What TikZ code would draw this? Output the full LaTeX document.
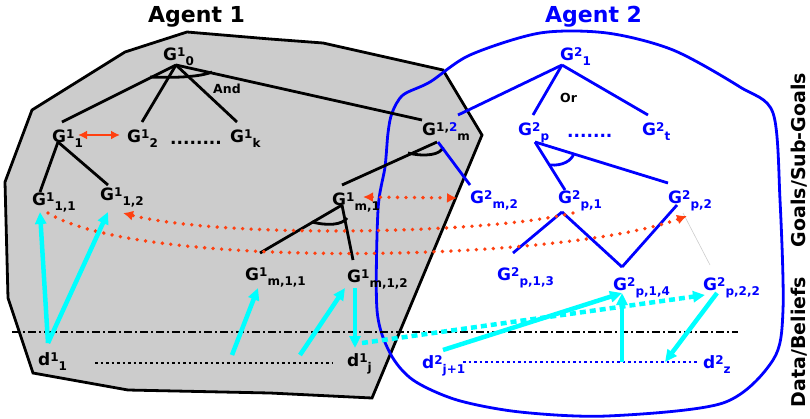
\documentclass[tikz,border=0pt]{standalone}
\usepackage{fontspec}
\setmainfont{DejaVu Sans}
\usetikzlibrary{arrows.meta}

\definecolor{agblue}{RGB}{0,0,255}
\definecolor{agred}{RGB}{255,64,16}
\definecolor{agcyan}{RGB}{0,255,255}
\definecolor{aggray}{RGB}{204,204,204}

% raised and lowered indices of a goal label
\newcommand{\Gup}[1]{\raisebox{3.6pt}{\fontsize{12}{12}\selectfont #1}}
\newcommand{\Gdn}[1]{\raisebox{-5pt}{\fontsize{12}{12}\selectfont #1}}

\tikzset{
  gl/.style={inner sep=0pt, anchor=base west, font=\fontsize{17}{20}\selectfont\bfseries},
  bl/.style={gl, text=agblue},
  word/.style={inner sep=0pt, anchor=base west, font=\fontsize{12.5}{14}\selectfont\bfseries},
  title/.style={inner sep=0pt, anchor=base west, font=\fontsize{22}{24}\selectfont\bfseries},
  side/.style={inner sep=0pt, anchor=base, rotate=90, font=\fontsize{19}{20}\selectfont\bfseries},
  tree/.style={line width=2.8pt},
  btree/.style={tree, agblue},
  reddots/.style={agred, line width=3.8pt, line cap=round, dash pattern=on 0pt off 8.5pt},
  cyarr/.style={agcyan, line width=4.5pt, -{Triangle[length=12pt,width=11pt]}},
  dataline/.style={line width=2.5pt, dash pattern=on 2.5pt off 3pt}
}

\begin{document}
\begin{tikzpicture}[x=1pt,y=-1pt]
\useasboundingbox (0,0) rectangle (810,418);

% the two agents
\filldraw[fill=aggray, draw=black, line width=2.8pt] (187,32) -- (270,39) -- (323,43) -- (443,70)
  -- (482,135) -- (372,398) -- (270,393) -- (128,390) -- (33,373) -- (8,298) -- (5,182)
  -- (32,110) -- (125,52) -- cycle;
\draw[agblue, line width=2.8pt] plot[smooth cycle] coordinates {(378,210) (385,167) (388,133)
  (392,113) (403,95) (430,82) (470,55) (540,33) (607,33) (673,50) (740,87) (773,113) (780,200)
  (783,310) (773,360) (723,403) (607,416) (520,412) (457,400) (413,380) (390,353) (377,310)};

\draw[line width=1.2pt, dash pattern=on 8pt off 3pt on 2pt off 3pt] (12,332) -- (738,332);

\node[title] (ag1) at (148,22) {Agent 1};
\node[title, text=agblue] (ag2) at (545,22) {Agent 2};
\node[side] (goals) at (805,160) {Goals/Sub-Goals};
\node[side] (data) at (805,342) {Data/Beliefs};

% agent 1
\node[gl] (g10) at (163,60) {G\Gup{1}\Gdn{0}};
\node[gl] (g11) at (52,142) {G\Gup{1}\Gdn{1}};
\node[gl] (g12) at (127,142) {G\Gup{1}\Gdn{2}};
\node[gl] (dotsa) at (170,144) {........};
\node[gl] (g1k) at (230,142) {G\Gup{1}\Gdn{k}};
\node[word] (and) at (213,93) {And};
\node[gl] (g111) at (32,205) {G\Gup{1}\Gdn{1,1}};
\node[gl] (g112) at (100,200) {G\Gup{1}\Gdn{1,2}};
\node[gl] (g1m2) at (422,135) {G\Gup{1,\textcolor{agblue}{2}}\Gdn{m}};
\node[gl] (g1m1) at (332,205) {G\Gup{1}\Gdn{m,1}};
\node[gl] (g1m11) at (245,280) {G\Gup{1}\Gdn{m,1,1}};
\node[gl] (g1m12) at (347,282) {G\Gup{1}\Gdn{m,1,2}};
\node[gl] (d11) at (38,365) {d\Gup{1}\Gdn{1}};
\node[gl] (d1j) at (347,366) {d\Gup{1}\Gdn{j}};

% agent 2
\node[bl] (g21) at (560,60) {G\Gup{2}\Gdn{1}};
\node[word] (or) at (560,102) {Or};
\node[bl] (g2p) at (518,135) {G\Gup{2}\Gdn{p}};
\node[bl] (dotsb) at (567,137) {.......};
\node[bl] (g2t) at (642,135) {G\Gup{2}\Gdn{t}};
\node[bl] (g2m2) at (470,203) {G\Gup{2}\Gdn{m,2}};
\node[bl] (g2p1) at (558,203) {G\Gup{2}\Gdn{p,1}};
\node[bl] (g2p2) at (668,203) {G\Gup{2}\Gdn{p,2}};
\node[bl] (g2p13) at (497,280) {G\Gup{2}\Gdn{p,1,3}};
\node[bl] (g2p14) at (613,290) {G\Gup{2}\Gdn{p,1,4}};
\node[bl] (g2p22) at (703,290) {G\Gup{2}\Gdn{p,2,2}};
\node[bl] (d2j1) at (422,368) {d\Gup{2}\Gdn{j+1}};
\node[bl] (d2z) at (703,368) {d\Gup{2}\Gdn{z}};

% black goal tree
\draw[tree] ([shift={(13pt,-5pt)}]g10.base west) -- ([shift={(10pt,20pt)}]g11.base west);
\draw[tree] ([shift={(13pt,-5pt)}]g10.base west) -- ([shift={(15pt,20pt)}]g12.base west);
\draw[tree] ([shift={(13pt,-5pt)}]g10.base west) -- ([shift={(7pt,20pt)}]g1k.base west);
\draw[tree] ([shift={(13pt,-5pt)}]g10.base west) -- ([shift={(0pt,15pt)}]g1m2.base west);
\draw[tree] (150,77) .. controls (175,78) and (200,77) .. (212,72);
\draw[tree] ([shift={(6pt,0pt)}]g11.base west) -- ([shift={(8pt,13pt)}]g111.base west);
\draw[tree] ([shift={(6pt,0pt)}]g11.base west) -- ([shift={(8pt,15pt)}]g112.base west);
\draw[tree] ([shift={(15pt,-7pt)}]g1m2.base west) -- ([shift={(10pt,20pt)}]g1m1.base west);
\draw[tree] (408,153) .. controls (425,157) and (441,155) .. (443,147);
\draw[tree] ([shift={(10pt,0pt)}]g1m1.base west) -- ([shift={(15pt,27pt)}]g1m11.base west);
\draw[tree] ([shift={(10pt,0pt)}]g1m1.base west) -- ([shift={(6pt,22pt)}]g1m12.base west);
\draw[tree] (312,222) .. controls (328,226) and (342,225) .. (347,218);

% blue goal tree
\draw[btree] ([shift={(2pt,-5pt)}]g21.base west) -- ([shift={(36pt,20pt)}]g1m2.base west);
\draw[btree] ([shift={(2pt,-5pt)}]g21.base west) -- ([shift={(15pt,20pt)}]g2p.base west);
\draw[btree] ([shift={(2pt,-5pt)}]g21.base west) -- ([shift={(6pt,20pt)}]g2t.base west);
\draw[btree] ([shift={(16pt,-7pt)}]g1m2.base west) -- ([shift={(0pt,18pt)}]g2m2.base west);
\draw[btree] ([shift={(17pt,-7pt)}]g2p.base west) -- ([shift={(7pt,13pt)}]g2p1.base west);
\draw[btree] ([shift={(17pt,-7pt)}]g2p.base west) -- ([shift={(0pt,20pt)}]g2p2.base west);
\draw[btree] (550,165) .. controls (562,166) and (572,161) .. (574,153);
\draw[btree] ([shift={(4pt,-9pt)}]g2p1.base west) -- ([shift={(16pt,27pt)}]g2p13.base west);
\draw[btree] ([shift={(4pt,-9pt)}]g2p1.base west) -- ([shift={(9pt,23pt)}]g2p14.base west);
\draw[btree] ([shift={(9pt,-2pt)}]g2p2.base west) -- ([shift={(9pt,23pt)}]g2p14.base west);
\draw[gray!40, line width=0.6pt] ([shift={(15pt,-10pt)}]g2p2.base west) -- ([shift={(7pt,25pt)}]g2p22.base west);

% data lines
\draw[dataline] ([shift={(57pt,2pt)}]d11.base west) -- ([shift={(-14pt,3pt)}]d1j.base west);
\draw[dataline, agblue] ([shift={(41pt,6pt)}]d2j1.base west) -- ([shift={(-6pt,6pt)}]d2z.base west);

% conflicts between goals
\draw[agred, line width=2.6pt, {Latex[length=9pt,width=9pt]}-{Latex[length=9pt,width=9pt]}]
  ([shift={(26pt,7pt)}]g11.base west) -- ([shift={(-7pt,7pt)}]g12.base west);
\draw[reddots, {Latex[length=10pt,width=10pt]}-{Latex[length=10pt,width=10pt]}]
  ([shift={(31pt,8pt)}]g1m1.base west) -- ([shift={(-13pt,5pt)}]g2m2.base west);
\draw[reddots, -{Latex[length=10pt,width=10pt]}] ([shift={(16pt,-8pt)}]g111.base west)
  .. controls (140,270) and (560,262) .. ([shift={(19pt,-13pt)}]g2p2.base west);
\draw[reddots, -{Latex[length=10pt,width=10pt]}] ([shift={(15pt,-10pt)}]g2p1.base west)
  .. controls (480,235) and (220,238) .. ([shift={(23pt,-13pt)}]g112.base west);

% support from data
\coordinate (c3s) at (232,355);
\coordinate (c4s) at (300,355);
\coordinate (c8s) at (622,362);
\coordinate (c9e) at (665,362);
\draw[cyarr] ([shift={(10pt,22pt)}]d11.base west) -- ([shift={(8pt,-7pt)}]g111.base west);
\draw[cyarr] ([shift={(10pt,22pt)}]d11.base west) -- ([shift={(8pt,-12pt)}]g112.base west);
\draw[cyarr] (c3s) -- ([shift={(13pt,-8pt)}]g1m11.base west);
\draw[cyarr] (c4s) -- ([shift={(-2pt,-6pt)}]g1m12.base west);
\draw[cyarr] ([shift={(8pt,-6pt)}]g1m12.base west) -- ([shift={(8pt,18pt)}]d1j.base west);
\draw[cyarr, dash pattern=on 6pt off 4pt] ([shift={(15pt,23pt)}]d1j.base west) -- ([shift={(2pt,-5pt)}]g2p22.base west);
\draw[cyarr] ([shift={(21pt,18pt)}]d2j1.base west) -- ([shift={(9pt,-3pt)}]g2p14.base west);
\draw[cyarr] (c8s) -- ([shift={(9pt,-3pt)}]g2p14.base west);
\draw[cyarr] ([shift={(14pt,-3pt)}]g2p22.base west) -- (c9e);
\end{tikzpicture}
\end{document}
